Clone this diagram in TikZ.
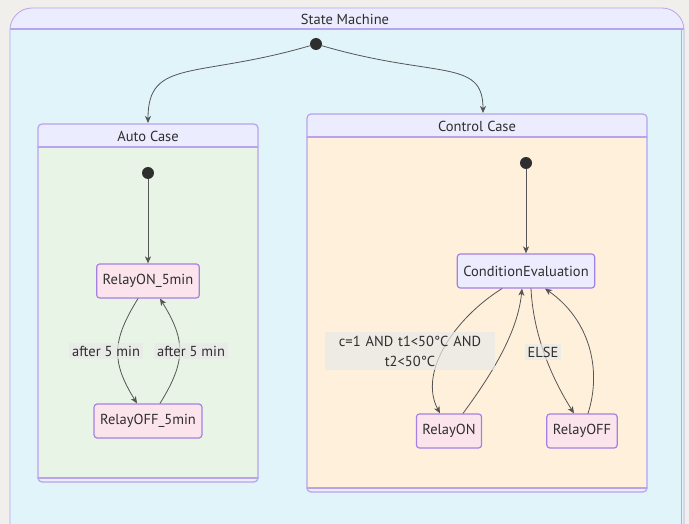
\documentclass[tikz,border=0pt]{standalone}
\usepackage{fontspec}
\setmainfont{PT Sans}
\usetikzlibrary{arrows.meta}

\definecolor{canvas}{HTML}{F0EFEB}
\definecolor{titlebar}{HTML}{ECECFF}
\definecolor{outerbody}{HTML}{E1F4FA}
\definecolor{autobody}{HTML}{E8F4E5}
\definecolor{ctrlbody}{HTML}{FFF0DC}
\definecolor{edge}{HTML}{B9A3EC}
\definecolor{stateline}{HTML}{A580E3}
\definecolor{pinkstate}{HTML}{FCE4EC}
\definecolor{ink}{HTML}{2E2E2E}
\definecolor{linkcol}{HTML}{555555}

\begin{document}
\begin{tikzpicture}[x=1pt,y=-1pt,line cap=round,line join=round,
  every node/.style={font=\fontsize{14.5}{20}\selectfont,text=ink},
  state/.style={draw=stateline,line width=1.2pt,rounded corners=3pt,fill=pinkstate,
    minimum height=34pt,inner xsep=6pt},
  startdot/.style={circle,fill=ink,inner sep=0pt,minimum size=12pt},
  link/.style={draw=linkcol,line width=0.8pt,-{Stealth[length=7pt,width=6pt,inset=2pt]}},
  linklabel/.style={fill=black!9,fill opacity=0.7,text opacity=1,inner sep=3pt,align=center}]
  \useasboundingbox (0,0) rectangle (689,524);
  \fill[canvas] (0,0) rectangle (689,524);
  % outer cluster
  \begin{scope}
    \clip[rounded corners=22pt] (10,8) rectangle (684,540);
    \fill[titlebar] (10,8) rectangle (684,29);
    \fill[outerbody] (10,29) rectangle (684,540);
    \draw[edge,line width=1.2pt] (10,29) -- (684,29);
    \draw[edge,line width=0.8pt] (681,29) -- (681,540);
  \end{scope}
  \draw[edge,line width=0.8pt,rounded corners=22pt] (10,540) -- (10,8) -- (684,8) -- (684,540);
  \node (tsm) at (345,19) {State Machine};
  % auto case
  \draw[edge,line width=1.2pt,rounded corners=4pt,fill=titlebar] (38,124) rectangle (258,482);
  \fill[autobody] (38.6,147) rectangle (257.4,478);
  \draw[edge,line width=1.2pt] (38,147) -- (258,147);
  \draw[edge,line width=1.2pt] (38,478) -- (258,478);
  \node (tauto) at (148,136) {Auto Case};
  % control case
  \draw[edge,line width=1.2pt,rounded corners=4pt,fill=titlebar] (307,114) rectangle (647,492);
  \fill[ctrlbody] (307.6,137) rectangle (646.4,488);
  \draw[edge,line width=1.2pt] (307,137) -- (647,137);
  \draw[edge,line width=1.2pt] (307,488) -- (647,488);
  \node (tctrl) at (477,126) {Control Case};
  \coordinate (autotop) at (148,123);
  \coordinate (ctrltop) at (483,113);
  % states
  \node[startdot] (s0) at (316,44) {};
  \node[startdot] (sauto) at (148,173) {};
  \node[startdot] (sctrl) at (526,163) {};
  \node[state] (on5) at (148,281) {RelayON\_5min};
  \node[state] (off5) at (148,421) {RelayOFF\_5min};
  \node[state,fill=titlebar] (ce) at (526,271) {ConditionEvaluation};
  \node[state] (ron) at (449,431) {RelayON};
  \node[state] (roff) at (582,431) {RelayOFF};
  % transitions
  \draw[link] (s0) .. controls +(-120,35) and +(0,-65) .. (autotop);
  \draw[link] (s0) .. controls +(120,35) and +(0,-55) .. (ctrltop);
  \draw[link] (sauto) -- (on5);
  \draw[link] (sctrl) -- (ce);
  \draw[link] ([xshift=-10pt]on5.south) .. controls +(-26,42) and +(-26,-42) .. ([xshift=-11pt]off5.north);
  \draw[link] ([xshift=12pt]off5.north) .. controls +(26,-42) and +(26,42) .. ([xshift=12pt]on5.south);
  \draw[link] ([xshift=-24pt]ce.south) .. controls (455,318) and (418,372) .. ([xshift=-9pt]ron.north);
  \draw[link] ([xshift=14pt]ron.north) .. controls (495,370) and (518,330) .. ([xshift=-4pt]ce.south);
  \draw[link] ([xshift=5pt]ce.south) .. controls (533,330) and (548,372) .. ([xshift=-8pt]roff.north);
  \draw[link] ([xshift=6pt]roff.north) .. controls (602,370) and (590,320) .. ([xshift=19pt]ce.south);
  % labels
  \node[linklabel] (l1) at (106,351) {after 5 min};
  \node[linklabel] (l2) at (191,351) {after 5 min};
  \node[linklabel,text width=164pt,inner ysep=4pt] (l3) at (410,351) {c=1 AND t1<50°C AND\\t2<50°C};
  \node[linklabel] (l4) at (543,352) {ELSE};
\end{tikzpicture}
\end{document}
